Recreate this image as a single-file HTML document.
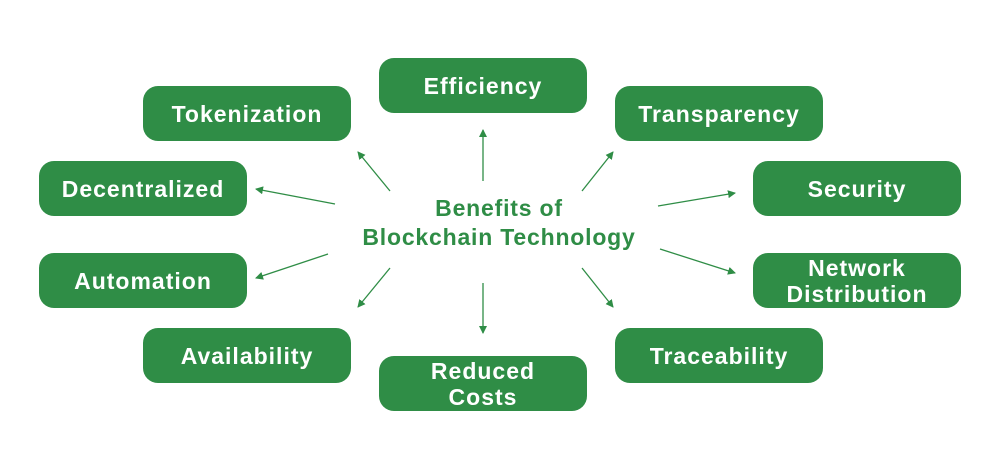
<!DOCTYPE html>
<html><head><style>
body{margin:0;width:1000px;height:470px;background:#fff;position:relative;overflow:hidden;font-family:"Liberation Sans",sans-serif}
.b{position:absolute;width:208px;height:55px;background:#2f8d46;border-radius:15px;color:#fff;font-weight:bold;font-size:23px;letter-spacing:1px;display:flex;align-items:center;justify-content:center;text-align:center;line-height:26px}
.c{position:absolute;left:316px;top:194px;width:366px;text-align:center;color:#2f8d46;font-weight:bold;font-size:23px;letter-spacing:0.8px;line-height:29px}
svg{position:absolute;left:0;top:0}
</style></head><body>
<svg width="1000" height="470"><defs><marker id="a" markerWidth="8" markerHeight="8" refX="7" refY="4" orient="auto" markerUnits="userSpaceOnUse"><path d="M0,0L8,4L0,8z" fill="#2f8d46"/></marker></defs>
<g stroke="#2f8d46" stroke-width="1.3" marker-end="url(#a)">
<line x1="483" y1="181" x2="483" y2="130"/>
<line x1="390" y1="191" x2="358" y2="152"/>
<line x1="582" y1="191" x2="613" y2="152"/>
<line x1="390" y1="268" x2="358" y2="307"/>
<line x1="582" y1="268" x2="613" y2="307"/>
<line x1="483" y1="283" x2="483" y2="333"/>
<line x1="335" y1="204" x2="256" y2="189"/>
<line x1="658" y1="206" x2="735" y2="193"/>
<line x1="328" y1="254" x2="256" y2="278"/>
<line x1="660" y1="249" x2="735" y2="273"/>
</g></svg>
<div class="b" style="left:379px;top:58px">Efficiency</div>
<div class="b" style="left:143px;top:86px">Tokenization</div>
<div class="b" style="left:615px;top:86px">Transparency</div>
<div class="b" style="left:39px;top:161px">Decentralized</div>
<div class="b" style="left:753px;top:161px">Security</div>
<div class="b" style="left:39px;top:253px">Automation</div>
<div class="b" style="left:753px;top:253px">Network<br>Distribution</div>
<div class="b" style="left:143px;top:328px">Availability</div>
<div class="b" style="left:615px;top:328px">Traceability</div>
<div class="b" style="left:379px;top:356px">Reduced<br>Costs</div>
<div class="c">Benefits of<br>Blockchain Technology</div>
</body></html>
